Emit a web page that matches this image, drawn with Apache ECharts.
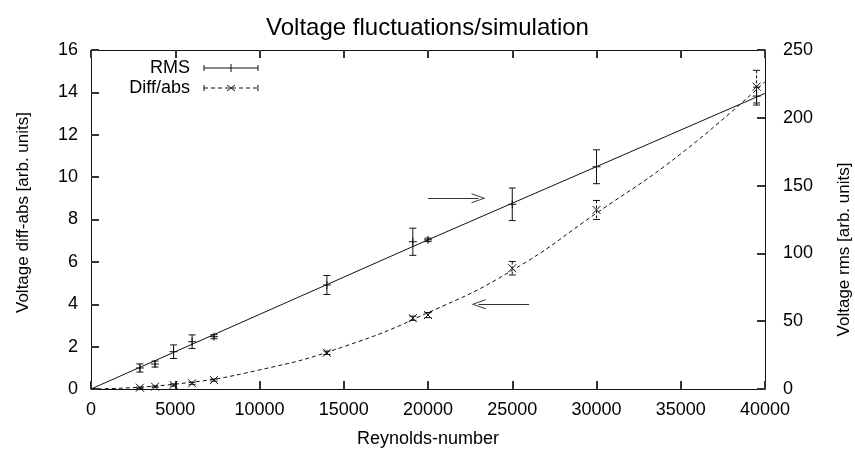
<!DOCTYPE html>
<html>
<head>
<meta charset="utf-8">
<script src="https://cdn.jsdelivr.net/npm/echarts@6/dist/echarts.min.js"></script>
<style>
  html, body { margin: 0; padding: 0; background: #fff; }
  #chart { width: 855px; height: 449px; }
</style>
</head>
<body>
<div id="chart"></div>
<script>
// measured points (same Reynolds numbers for both series)
const reynolds = [2900, 3800, 4900, 6000, 7300, 14000, 19100, 20000, 25000, 30000, 39500];
const rms = [15.5, 18.4, 27.5, 34.9, 38.6, 76.7, 108.6, 110, 136.2, 163.9, 216];
const rmsErr = [3, 2.2, 5, 5, 1.5, 7, 10, 1.3, 12, 12.5, 6.6];
const diffAbs = [0.06, 0.11, 0.19, 0.27, 0.42, 1.71, 3.34, 3.49, 5.70, 8.45, 14.27];
const diffErr = [0.03, 0.03, 0.05, 0.05, 0.05, 0.08, 0.1, 0.12, 0.32, 0.45, 0.77];

// fit curves
const rmsFitX = [0, 10000, 20000, 30000, 40000];
const rmsFit = [0, 55, 110, 164, 218];
const diffFitX = [0, 5000, 10000, 15000, 20000, 25000, 30000, 35000, 40000];
const diffFit = [0, 0.23, 0.9, 2.0, 3.6, 5.6, 8.3, 11.1, 14.5];

const xTicks = { min: 0, max: 40000, interval: 5000 };
const leftTicks = { min: 0, max: 16, interval: 2 };
const rightTicks = { min: 0, max: 250, interval: 50 };

const font = "'Liberation Sans', Arial, Helvetica, sans-serif";
const ink = '#111';

const chart = echarts.init(document.getElementById('chart'));

function seg(x1, y1, x2, y2, style) {
  return { type: 'line', shape: { x1, y1, x2, y2 }, style };
}

function errorBars(mark, dashed) {
  return function (params, api) {
    const x = api.value(0), y = api.value(1), e = api.value(2);
    const c = api.coord([x, y]);
    const hi = api.coord([x, y + e]);
    const lo = api.coord([x, y - e]);
    const w = 3.5, s = 4;
    const st = { stroke: ink, lineWidth: 1, lineDash: dashed ? [3, 2] : null };
    const ms = { stroke: ink, lineWidth: 1 };
    const kids = [
      seg(c[0], hi[1], c[0], lo[1], st),
      seg(c[0] - w, hi[1], c[0] + w, hi[1], ms),
      seg(c[0] - w, lo[1], c[0] + w, lo[1], ms)
    ];
    if (mark === 'plus') {
      kids.push(seg(c[0] - s, c[1], c[0] + s, c[1], ms));
      kids.push(seg(c[0], c[1] - s, c[0], c[1] + s, ms));
    } else {
      kids.push(seg(c[0] - s, c[1] - s, c[0] + s, c[1] + s, ms));
      kids.push(seg(c[0] - s, c[1] + s, c[0] + s, c[1] - s, ms));
    }
    return { type: 'group', children: kids };
  };
}

// open arrow head, pointing up (markLine rotates it)
const arrowHead = 'path://M0,14 L7,0 L14,14 L12.6,14 L7,2.6 L1.4,14 Z';

// legend drawn gnuplot style: text left, sample right
function legendRow(label, y, dashed, mark) {
  const st = { stroke: ink, lineWidth: 1, lineDash: dashed ? [4, 3] : null };
  const ms = { stroke: ink, lineWidth: 1 };
  const x0 = 204, x1 = 258, xm = 231;
  const kids = [
    { type: 'text', style: { text: label, x: 190, y: y, align: 'right', verticalAlign: 'middle',
      font: '18px ' + font, fill: '#000' } },
    seg(x0, y, x1, y, st),
    seg(x0, y - 3, x0, y + 3, ms),
    seg(x1, y - 3, x1, y + 3, ms)
  ];
  if (mark === 'plus') {
    kids.push(seg(xm, y - 4, xm, y + 4, ms));
  } else {
    kids.push(seg(xm - 4, y - 3, xm + 4, y + 3, ms));
    kids.push(seg(xm - 4, y + 3, xm + 4, y - 3, ms));
  }
  return kids;
}

const axisLine = { show: true, onZero: false, lineStyle: { color: ink, width: 1 } };
const axisTick = { show: true, inside: true, length: 8, lineStyle: { color: '#333', width: 2 } };
const axisLabel = { color: '#000', fontSize: 18, fontFamily: font };

chart.setOption({
  animation: false,
  backgroundColor: '#fff',
  title: {
    text: 'Voltage fluctuations/simulation',
    left: 'center',
    top: 11,
    textStyle: { color: '#000', fontSize: 24, fontWeight: 'normal', fontFamily: font }
  },
  grid: { left: 91, right: 90, top: 50, bottom: 60, containLabel: false, outerBoundsMode: 'none' },
  xAxis: [
    {
      type: 'value', position: 'bottom', ...xTicks,
      axisLine, axisTick: { ...axisTick }, splitLine: { show: false },
      axisLabel: { ...axisLabel, margin: 12, formatter: v => String(v) },
      name: 'Reynolds-number', nameLocation: 'middle', nameGap: 41,
      nameTextStyle: { color: '#000', fontSize: 18, fontFamily: font }
    },
    {
      type: 'value', position: 'top', ...xTicks,
      axisLine, axisTick: { ...axisTick }, splitLine: { show: false },
      axisLabel: { show: false }
    }
  ],
  yAxis: [
    {
      type: 'value', position: 'left', ...leftTicks,
      axisLine, axisTick: { ...axisTick }, splitLine: { show: false },
      axisLabel: { ...axisLabel, margin: 13 },
      name: 'Voltage diff-abs [arb. units]', nameLocation: 'middle', nameGap: 59, nameRotate: 90,
      nameTextStyle: { color: '#000', fontSize: 17, fontFamily: font, padding: [0, 0, 0, 14] }
    },
    {
      type: 'value', position: 'right', ...rightTicks,
      axisLine, axisTick: { ...axisTick }, splitLine: { show: false },
      axisLabel: { ...axisLabel, margin: 18 },
      name: 'Voltage rms [arb. units]', nameLocation: 'middle', nameGap: 71, nameRotate: 90,
      nameTextStyle: { color: '#000', fontSize: 17, fontFamily: font, padding: [0, 60, 0, 0] }
    }
  ],
  series: [
    {
      name: 'RMS fit', type: 'line', yAxisIndex: 1, symbol: 'none', silent: true,
      lineStyle: { color: ink, width: 1 },
      data: rmsFitX.map((x, i) => [x, rmsFit[i]])
    },
    {
      name: 'Diff/abs fit', type: 'line', yAxisIndex: 0, symbol: 'none', smooth: true, silent: true,
      lineStyle: { color: ink, width: 1, type: [4, 3] },
      data: diffFitX.map((x, i) => [x, diffFit[i]]),
      markLine: {
        silent: true,
        symbol: ['none', arrowHead],
        symbolSize: [10, 14],
        label: { show: false },
        lineStyle: { color: '#333', width: 1, type: 'solid' },
        data: [
          [{ coord: [20000, 9] }, { coord: [23000, 9] }],
          [{ coord: [26000, 4] }, { coord: [23000, 4] }]
        ]
      }
    },
    {
      name: 'RMS', type: 'custom', yAxisIndex: 1, silent: true,
      renderItem: errorBars('plus', false),
      encode: { x: 0, y: 1 },
      data: reynolds.map((x, i) => [x, rms[i], rmsErr[i]])
    },
    {
      name: 'Diff/abs', type: 'custom', yAxisIndex: 0, silent: true,
      renderItem: errorBars('cross', true),
      encode: { x: 0, y: 1 },
      data: reynolds.map((x, i) => [x, diffAbs[i], diffErr[i]])
    }
  ],
  graphic: [
    ...legendRow('RMS', 68, false, 'plus'),
    ...legendRow('Diff/abs', 88, true, 'cross')
  ]
});
</script>
</body>
</html>
